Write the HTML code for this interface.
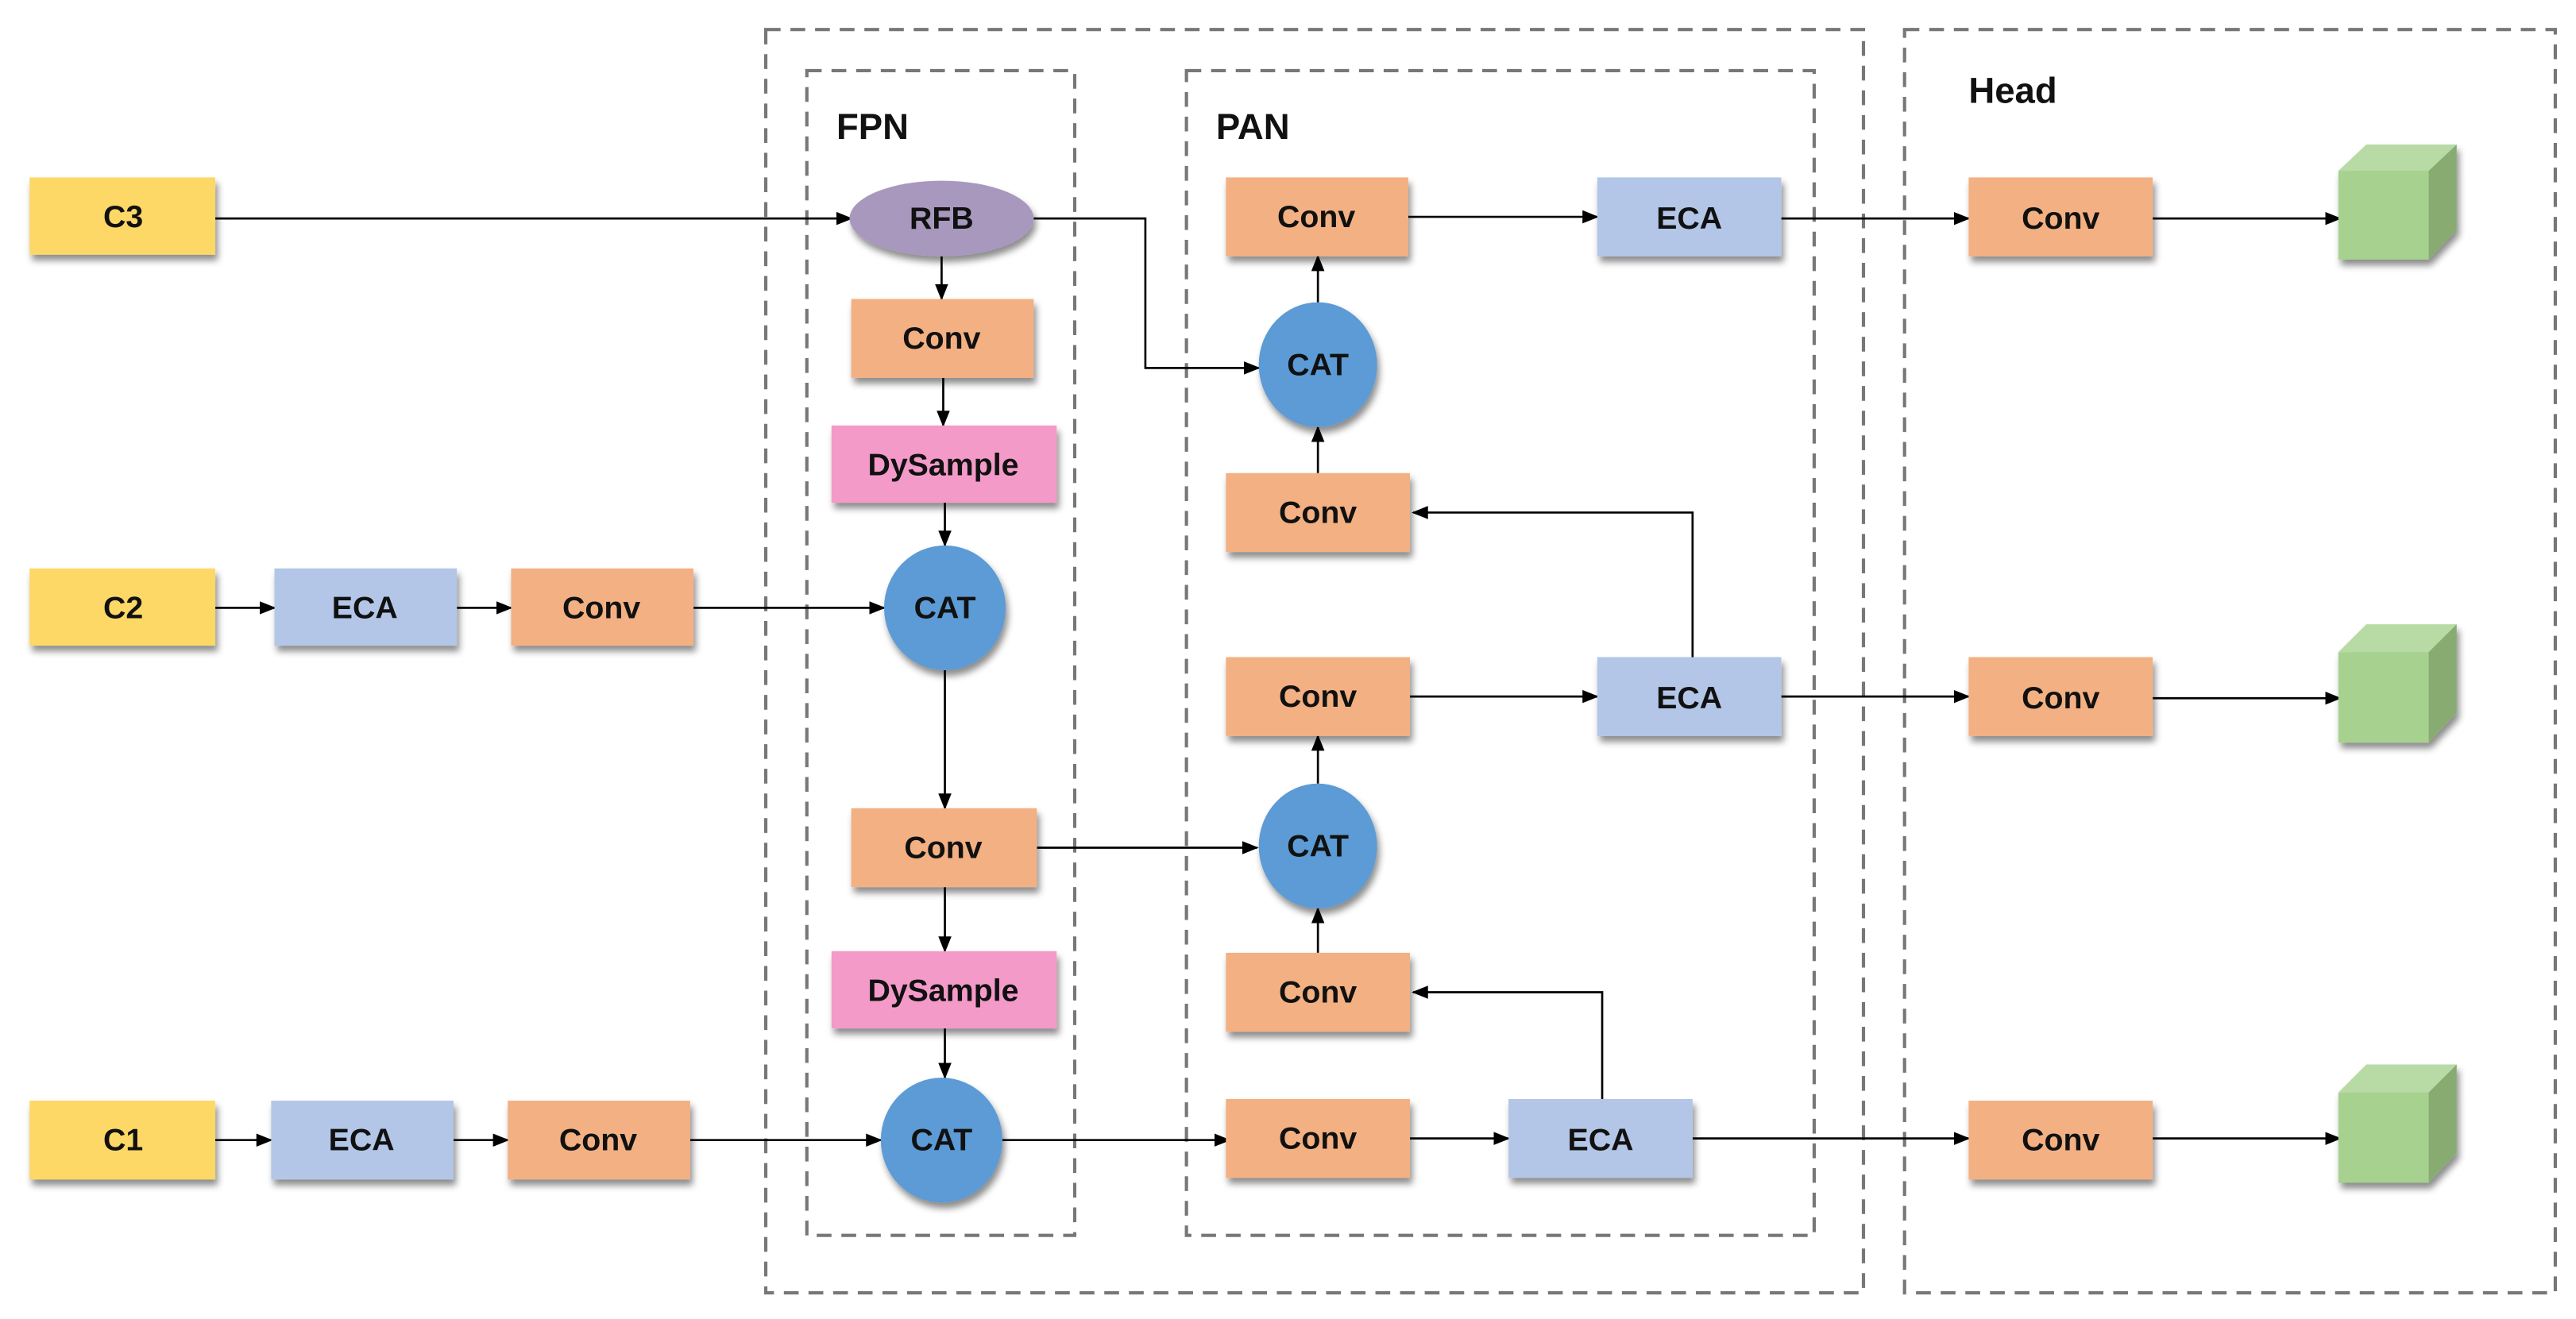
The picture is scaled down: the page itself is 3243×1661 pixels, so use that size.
<!DOCTYPE html>
<html><head><meta charset="utf-8"><style>
html,body{margin:0;padding:0;background:#fff;}
svg{display:block;}
text{font-family:"Liberation Sans",sans-serif;font-weight:bold;font-size:19px;fill:#111;text-anchor:middle;dominant-baseline:central;}
.lab{font-size:22px;text-anchor:start;}
</style></head><body>
<svg width="3243" height="1661" viewBox="0 0 1567.6 802.9" xmlns="http://www.w3.org/2000/svg">
<defs>
<filter id="sh" x="-20%" y="-20%" width="150%" height="160%">
<feDropShadow dx="1.5" dy="3.5" stdDeviation="2" flood-color="#000" flood-opacity="0.45"/>
</filter>
<marker id="ar" markerWidth="10" markerHeight="10" refX="9" refY="5" orient="auto" markerUnits="userSpaceOnUse">
<path d="M0,1 L10,5 L0,9 z" fill="#000"/>
</marker>
</defs>
<g fill="none" stroke="#777" stroke-width="2" stroke-dasharray="9,6">
<rect x="466" y="18" width="668" height="769"/>
<rect x="1159" y="18" width="396" height="769"/>
<rect x="491" y="43" width="163" height="709"/>
<rect x="722" y="43" width="382" height="709"/>
</g>
<text class="lab" x="509" y="77">FPN</text>
<text class="lab" x="740" y="77">PAN</text>
<text class="lab" x="1198" y="55">Head</text>

<g stroke="#000" stroke-width="1.3" fill="none" marker-end="url(#ar)">
<path d="M131,133 H518"/>
<path d="M629,133 H697 V224 H766"/>
<path d="M573,156 V182"/>
<path d="M574,230 V259"/>
<path d="M575,306 V332"/>
<path d="M131,370 H167"/>
<path d="M278,370 H311"/>
<path d="M422,370 H538"/>
<path d="M575,408 V492"/>
<path d="M631,516 H765"/>
<path d="M575,540 V579"/>
<path d="M575,626 V656"/>
<path d="M131,694 H165"/>
<path d="M276,694 H309"/>
<path d="M420,694 H536"/>
<path d="M610,694 H748"/>
<path d="M858,693 H918"/>
<path d="M975,669 V604 H860"/>
<path d="M802,580 V553"/>
<path d="M802,477 V448"/>
<path d="M858,424 H972"/>
<path d="M1030,400 V312 H860"/>
<path d="M802,288 V260"/>
<path d="M802,184 V156"/>
<path d="M857,132 H972"/>
<path d="M1084,133 H1198"/>
<path d="M1084,424 H1198"/>
<path d="M1030,693 H1198"/>
<path d="M1310,133 H1424"/>
<path d="M1310,425 H1424"/>
<path d="M1310,693 H1424"/>
</g>

<g filter="url(#sh)">
<rect x="18" y="108" width="113" height="47" fill="#fdd866"/>
<rect x="18" y="346" width="113" height="47" fill="#fdd866"/>
<rect x="18" y="670" width="113" height="48" fill="#fdd866"/>
<rect x="167" y="346" width="111" height="47" fill="#b3c6e7"/>
<rect x="311" y="346" width="111" height="47" fill="#f3b083"/>
<rect x="165" y="670" width="111" height="48" fill="#b3c6e7"/>
<rect x="309" y="670" width="111" height="48" fill="#f3b083"/>
<ellipse cx="573" cy="133" rx="56" ry="23" fill="#a898bd"/>
<rect x="518" y="182" width="111" height="48" fill="#f3b083"/>
<rect x="506" y="259" width="137" height="47" fill="#f39ac9"/>
<ellipse cx="575" cy="370" rx="37" ry="38" fill="#5b9bd5"/>
<rect x="518" y="492" width="113" height="48" fill="#f3b083"/>
<rect x="506" y="579" width="137" height="47" fill="#f39ac9"/>
<ellipse cx="573" cy="694" rx="37" ry="38" fill="#5b9bd5"/>
<rect x="746" y="108" width="111" height="48" fill="#f3b083"/>
<rect x="972" y="108" width="112" height="48" fill="#b3c6e7"/>
<ellipse cx="802" cy="222" rx="36" ry="38" fill="#5b9bd5"/>
<rect x="746" y="288" width="112" height="48" fill="#f3b083"/>
<rect x="746" y="400" width="112" height="48" fill="#f3b083"/>
<rect x="972" y="400" width="112" height="48" fill="#b3c6e7"/>
<ellipse cx="802" cy="515" rx="36" ry="38" fill="#5b9bd5"/>
<rect x="746" y="580" width="112" height="48" fill="#f3b083"/>
<rect x="746" y="669" width="112" height="48" fill="#f3b083"/>
<rect x="918" y="669" width="112" height="48" fill="#b3c6e7"/>
<rect x="1198" y="108" width="112" height="48" fill="#f3b083"/>
<rect x="1198" y="400" width="112" height="48" fill="#f3b083"/>
<rect x="1198" y="670" width="112" height="48" fill="#f3b083"/>
<g>
<polygon points="1423,104 1478,104 1478,158 1423,158" fill="#a6d18e"/>
<polygon points="1423,104 1440,88 1495,88 1478,104" fill="#b8dba5"/>
<polygon points="1478,104 1495,88 1495,140 1478,158" fill="#88ab72"/>
</g>
<g>
<polygon points="1423,397 1478,397 1478,452 1423,452" fill="#a6d18e"/>
<polygon points="1423,397 1440,380 1495,380 1478,397" fill="#b8dba5"/>
<polygon points="1478,397 1495,380 1495,434 1478,452" fill="#88ab72"/>
</g>
<g>
<polygon points="1423,665 1478,665 1478,720 1423,720" fill="#a6d18e"/>
<polygon points="1423,665 1440,648 1495,648 1478,665" fill="#b8dba5"/>
<polygon points="1478,665 1495,648 1495,702 1478,720" fill="#88ab72"/>
</g>
</g>

<text x="75" y="132">C3</text>
<text x="75" y="370">C2</text>
<text x="75" y="694">C1</text>
<text x="222" y="370">ECA</text>
<text x="366" y="370">Conv</text>
<text x="220" y="694">ECA</text>
<text x="364" y="694">Conv</text>
<text x="573" y="133">RFB</text>
<text x="573" y="206">Conv</text>
<text x="574" y="283">DySample</text>
<text x="575" y="370">CAT</text>
<text x="574" y="516">Conv</text>
<text x="574" y="603">DySample</text>
<text x="573" y="694">CAT</text>
<text x="801" y="132">Conv</text>
<text x="1028" y="133">ECA</text>
<text x="802" y="222">CAT</text>
<text x="802" y="312">Conv</text>
<text x="802" y="424">Conv</text>
<text x="1028" y="425">ECA</text>
<text x="802" y="515">CAT</text>
<text x="802" y="604">Conv</text>
<text x="802" y="693">Conv</text>
<text x="974" y="694">ECA</text>
<text x="1254" y="133">Conv</text>
<text x="1254" y="425">Conv</text>
<text x="1254" y="694">Conv</text>
</svg>
</body></html>
